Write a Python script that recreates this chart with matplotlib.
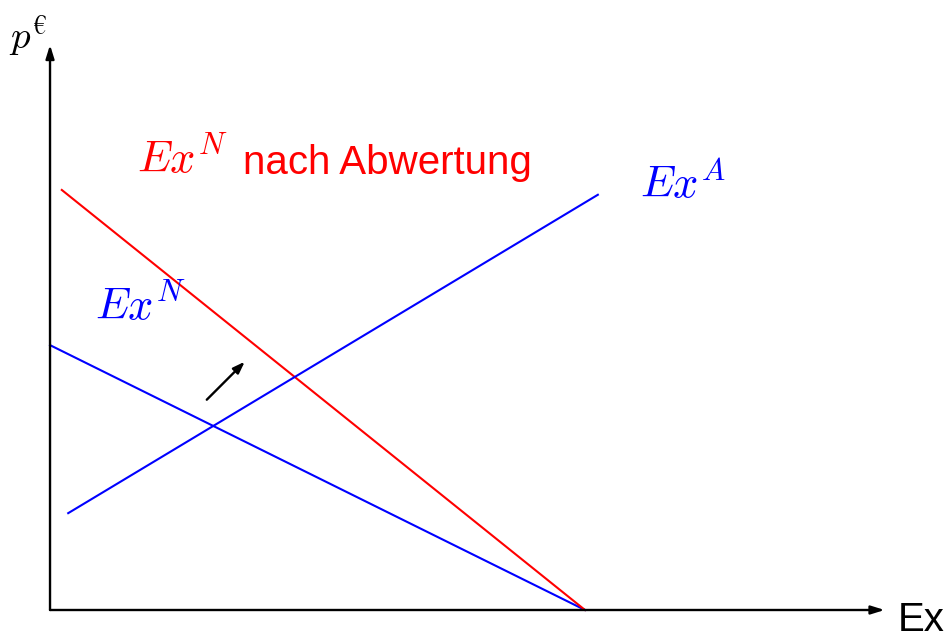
import matplotlib
matplotlib.use("Agg")
import matplotlib.pyplot as plt

plt.rcParams['mathtext.fontset'] = 'cm'
plt.rcParams['font.family'] = ['Liberation Sans', 'DejaVu Sans']

# Linien (Menge, Preis)
exn_x = [0, 100]
exn_y = [49.5, 0]
exn_neu_x = [2.2, 100]
exn_neu_y = [78.5, 0]
exa_x = [3.4, 102.4]
exa_y = [18.1, 77.6]
# Verschiebungspfeil
shift_start = (29.3, 39.3)
shift_end = (36.4, 46.4)

BLUE = "#0000ff"
RED = "#ff0000"

fig = plt.figure(figsize=(9.48, 6.39), dpi=100)
ax = fig.add_axes([0, 0, 1, 1])
ax.set_xlim(-9.35, 167.85)
ax.set_ylim(-5.42, 114.0)
ax.axis("off")

# Achsen mit Pfeilen
arrow = dict(arrowstyle="-|>,head_length=0.8,head_width=0.25", color="black", lw=1.7,
             shrinkA=0, shrinkB=0)
ax.annotate("", xy=(156, 0), xytext=(0, 0), arrowprops=arrow)
ax.annotate("", xy=(0, 105.6), xytext=(0, 0), arrowprops=arrow)

ax.plot(exn_x, exn_y, color=BLUE, lw=1.5)
ax.plot(exn_neu_x, exn_neu_y, color=RED, lw=1.5)
ax.plot(exa_x, exa_y, color=BLUE, lw=1.5)

ax.annotate("", xy=shift_end, xytext=shift_start,
            arrowprops=dict(arrowstyle="-|>,head_length=0.7,head_width=0.25", color="black",
                            lw=1.7, shrinkA=0, shrinkB=0))

ax.text(16.3, 84.1, "$Ex^N$", color=RED, fontsize=32, va="center", ha="left")
ax.text(36.1, 83.6, "nach Abwertung", color=RED, fontsize=29, va="center", ha="left")
ax.text(110.3, 79.5, "$Ex^A$", color=BLUE, fontsize=32, va="center", ha="left")
ax.text(8.4, 56.8, "$Ex^N$", color=BLUE, fontsize=32, va="center", ha="left")
ax.text(-7.7, 107.3, "$p^{€}$", color="black", fontsize=28, va="center", ha="left")
ax.text(158.4, -1.9, "Ex", color="black", fontsize=29, va="center", ha="left")

fig.savefig("out.png", dpi=100)
